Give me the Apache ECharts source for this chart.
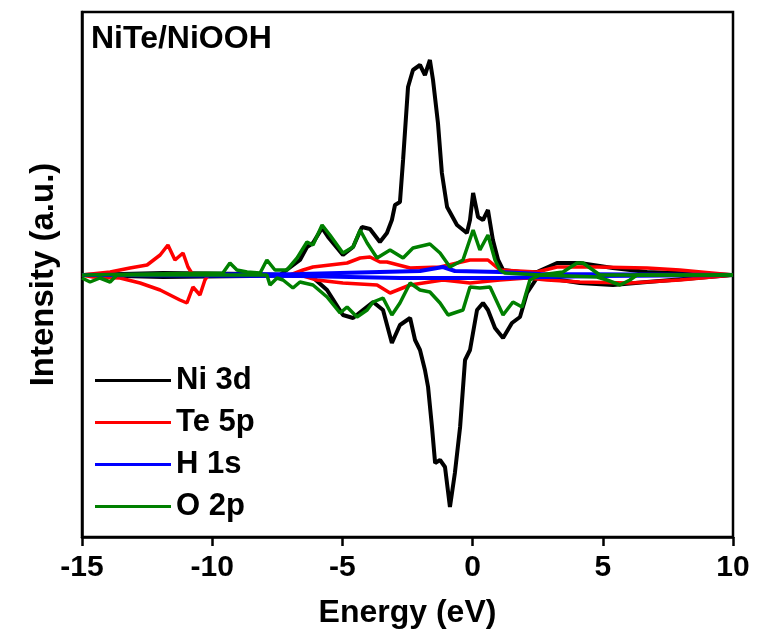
<!DOCTYPE html>
<html>
<head>
<meta charset="utf-8">
<script src="https://cdn.jsdelivr.net/npm/echarts@6/dist/echarts.min.js"></script>
<style>
  html, body { margin: 0; padding: 0; background: #fff; }
  #chart { width: 757px; height: 641px; }
</style>
</head>
<body>
<div id="chart"></div>
<script>
// PDOS curves, [energy eV, intensity a.u.] ; spin up positive, spin down negative
var niUp = [[-15,0],[-11.89,2],[-8.55,1],[-7.40,0],[-6.63,15],[-6.36,28],[-6.13,32],[-5.78,47],[-5.55,38],[-4.98,20],[-4.59,28],[-4.25,48],[-3.94,46],[-3.56,33],[-3.29,42],[-3.10,55],[-2.98,70],[-2.79,73],[-2.67,115],[-2.48,188],[-2.29,205],[-2.02,210],[-1.83,200],[-1.64,215],[-1.52,195],[-1.33,152],[-1.18,102],[-0.98,68],[-0.60,50],[-0.22,42],[-0.10,55],[0.02,82],[0.21,58],[0.40,55],[0.59,65],[0.78,35],[0.98,15],[1.17,5],[1.82,3],[2.47,3],[3.24,12],[4.12,12],[5.39,7],[6.70,3],[10,0]];
var niDown = [[-15,0],[-11.89,-2],[-8.55,-1],[-6.24,0],[-5.59,-15],[-4.98,-40],[-4.59,-43],[-4.21,-35],[-3.82,-27],[-3.44,-35],[-3.10,-68],[-2.79,-50],[-2.40,-43],[-2.21,-65],[-2.02,-75],[-1.83,-95],[-1.71,-112],[-1.56,-152],[-1.44,-188],[-1.25,-185],[-1.06,-192],[-0.87,-232],[-0.68,-198],[-0.48,-152],[-0.29,-85],[-0.10,-75],[0.17,-35],[0.40,-28],[0.59,-35],[0.86,-53],[1.17,-63],[1.51,-48],[1.82,-42],[2.09,-18],[2.47,-3],[2.86,-3],[4.12,-8],[5.39,-10],[6.70,-7],[10,0]];
var teUp = [[-15,0],[-13.92,3],[-13.16,7],[-12.50,10],[-12.00,20],[-11.70,30],[-11.43,15],[-11.12,22],[-10.93,8],[-10.74,0],[-7.01,0],[-6.51,5],[-6.13,8],[-4.82,12],[-4.32,17],[-3.94,18],[-3.56,13],[-3.29,13],[-2.40,7],[-1.25,8],[-0.10,15],[0.59,15],[1.05,5],[2.47,3],[3.24,8],[4.78,8],[6.70,7],[7.96,5],[10,0]];
var teDown = [[-15,0],[-14.58,-2],[-13.54,-3],[-12.77,-8],[-12.00,-15],[-11.24,-25],[-10.97,-28],[-10.74,-12],[-10.47,-20],[-10.28,-5],[-10.16,0],[-6.63,0],[-5.98,-5],[-4.98,-8],[-3.67,-10],[-3.17,-18],[-2.40,-10],[-1.14,-5],[-0.10,-8],[1.05,-5],[2.09,-3],[2.86,-5],[4.12,-7],[6.04,-8],[7.96,-5],[10,0]];
var hUp = [[-15,0],[-6.63,1],[-3.56,3],[-2.02,4],[-1.14,8],[-0.68,4],[1.05,3],[2.59,1],[10,0]];
var hDown = [[-15,0],[-6.63,-1],[-2.79,-3],[1.05,-3],[2.78,-2],[4.89,-1],[10,0]];
var oUp = [[-15,0],[-9.59,2],[-9.32,12],[-9.05,5],[-8.66,3],[-8.16,2],[-7.90,15],[-7.59,5],[-7.13,5],[-6.74,17],[-6.36,33],[-6.13,30],[-5.78,50],[-5.48,40],[-4.98,22],[-4.59,28],[-4.32,45],[-4.05,32],[-3.67,17],[-3.17,25],[-2.67,17],[-2.29,27],[-1.64,31],[-1.25,22],[-0.87,8],[-0.37,15],[0.02,45],[0.28,25],[0.59,40],[0.86,15],[1.05,5],[1.24,2],[2.59,0],[3.47,3],[4.01,12],[4.24,12],[4.51,7],[4.89,0],[10,0]];
var oDown = [[-15,-3],[-14.69,-7],[-14.31,-3],[-13.92,-7],[-13.66,0],[-7.90,0],[-7.78,-10],[-7.51,-3],[-7.28,-5],[-6.90,-13],[-6.63,-7],[-6.13,-10],[-5.59,-22],[-5.09,-38],[-4.82,-32],[-4.44,-42],[-4.05,-35],[-3.82,-27],[-3.44,-23],[-3.10,-40],[-2.79,-28],[-2.40,-8],[-2.02,-15],[-1.64,-17],[-1.25,-28],[-0.94,-40],[-0.60,-37],[-0.37,-35],[-0.10,-12],[0.28,-13],[0.67,-12],[1.17,-40],[1.55,-27],[1.90,-32],[2.20,-5],[2.59,0],[4.78,-2],[5.16,-5],[5.66,-10],[6.04,-5],[6.31,0],[10,0]];

var legendNames = ['Ni 3d', 'Te 5p', 'H 1s', 'O 2p'];
var colors = ['#000000', '#ff0000', '#0000ff', '#008000'];

var font = 'Liberation Sans, Arial, sans-serif';

function line(name, data, color, width) {
  return {
    name: name,
    type: 'line',
    data: data,
    symbol: 'none',
    color: color,
    lineStyle: { color: color, width: width },
    animation: false
  };
}

var chart = echarts.init(document.getElementById('chart'));
chart.setOption({
  backgroundColor: '#fff',
  title: {
    text: 'NiTe/NiOOH',
    left: 91,
    top: 23,
    padding: 0,
    textStyle: { fontFamily: font, fontSize: 32, fontWeight: 'bold', color: '#000' }
  },
  legend: {
    data: legendNames,
    orient: 'vertical',
    left: 95,
    top: 365,
    itemWidth: 76,
    itemHeight: 3,
    itemGap: 11,
    icon: 'rect',
    padding: 0,
    textStyle: { fontFamily: font, fontSize: 31, fontWeight: 'bold', color: '#000', lineHeight: 30 }
  },
  grid: {
    left: 82, right: 24, top: 12, bottom: 104,
    show: true, borderColor: '#000', borderWidth: 2.5
  },
  xAxis: {
    type: 'value',
    min: -15, max: 10, interval: 5,
    name: 'Energy (eV)',
    nameLocation: 'middle',
    nameGap: 60,
    nameTextStyle: { fontFamily: font, fontSize: 32, fontWeight: 'bold', color: '#000' },
    axisLine: { show: true, onZero: false, lineStyle: { color: '#000', width: 2.5 } },
    axisTick: { show: true, length: 9, lineStyle: { color: '#000', width: 2.5 } },
    axisLabel: { margin: 16, fontFamily: font, fontSize: 30, fontWeight: 'bold', color: '#000' },
    splitLine: { show: false }
  },
  yAxis: {
    type: 'value',
    min: -262, max: 263,
    name: 'Intensity (a.u.)',
    nameLocation: 'middle',
    nameGap: 22,
    nameTextStyle: { fontFamily: font, fontSize: 33, fontWeight: 'bold', color: '#000' },
    axisLine: { show: true, onZero: false, lineStyle: { color: '#000', width: 2.5 } },
    axisTick: { show: false },
    axisLabel: { show: false },
    splitLine: { show: false }
  },
  series: [
    line('Ni 3d', niUp, colors[0], 4),
    line('Ni 3d', niDown, colors[0], 4),
    line('Te 5p', teUp, colors[1], 3.5),
    line('Te 5p', teDown, colors[1], 3.5),
    line('H 1s', hUp, colors[2], 4),
    line('H 1s', hDown, colors[2], 4),
    line('O 2p', oUp, colors[3], 3.5),
    line('O 2p', oDown, colors[3], 3.5)
  ]
});
</script>
</body>
</html>
